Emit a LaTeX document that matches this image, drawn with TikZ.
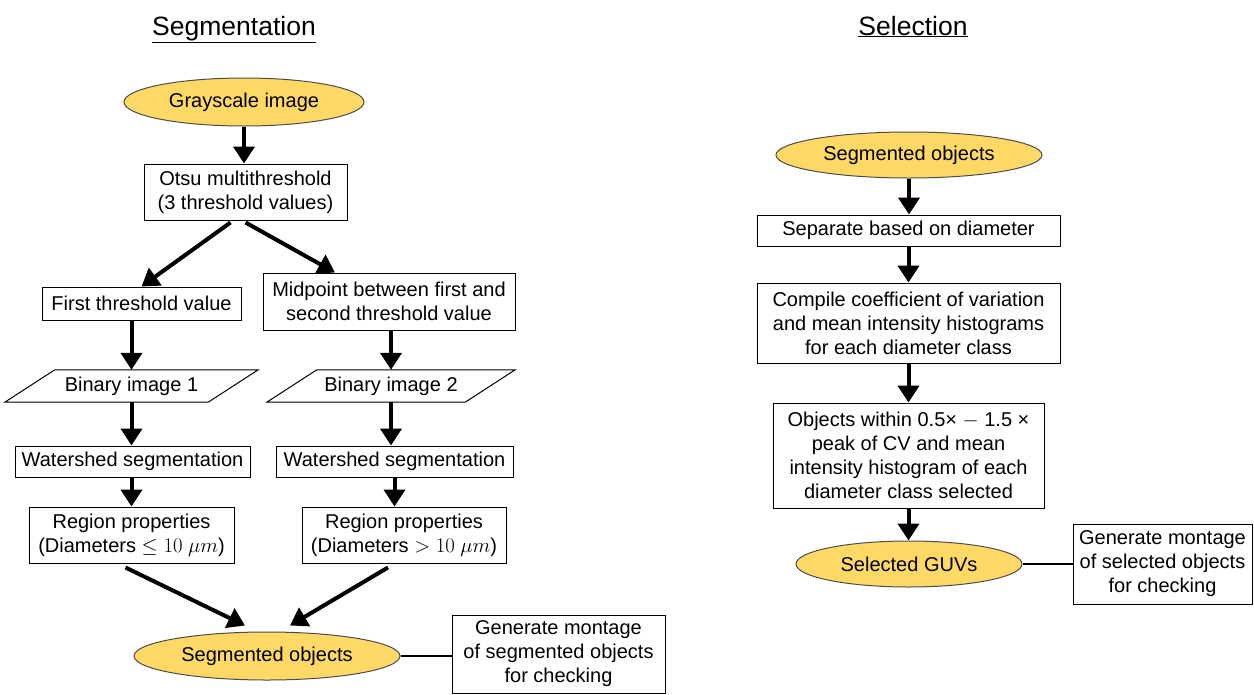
\documentclass[tikz,border=0pt]{standalone}
\usepackage{fontspec}
\setmainfont{Liberation Sans}
\usetikzlibrary{shapes.geometric,arrows.meta,calc,positioning}
\definecolor{termgold}{RGB}{255,217,102}
\tikzset{
  box/.style={draw, line width=1pt, fill=white, align=center, inner sep=0pt,
    font=\fontsize{20}{24}\selectfont},
  term/.style={ellipse, draw=black!70, line width=1pt, fill=termgold, inner sep=0pt,
    font=\fontsize{20}{24}\selectfont},
  slanted/.style={inner sep=0pt, font=\fontsize{20}{24}\selectfont},
  flow/.style={-{Triangle[length=17pt,width=21pt]}, line width=4pt},
  link/.style={line width=2pt},
  heading/.style={anchor=base, font=\fontsize{26.5}{30}\selectfont}
}
\begin{document}
\begin{tikzpicture}[x=1pt, y=-1pt]
  \useasboundingbox (0,0) rectangle (1254,694);
  % titles
  \node[heading] (segtitle) at (234,35) {\underline{Segmentation}};
  \node[heading] (seltitle) at (913,35) {\underline{Selection}};

  % segmentation
  \node[term, minimum width=240, minimum height=48] (gray) at (244,102) {Grayscale image};
  \node[box, minimum width=203, minimum height=56] (otsu) at (245.5,192) {Otsu multithreshold\\(3 threshold values)};
  \node[box, minimum width=199, minimum height=33] (first) at (141.5,303.5) {First threshold value};
  \node[box, minimum width=252, minimum height=57] (mid) at (389,301.5) {Midpoint between first and\\second threshold value};
  \node[slanted, minimum width=153, minimum height=32] (bin1) at (131.5,386) {Binary image 1};
  \node[slanted, minimum width=148, minimum height=32] (bin2) at (391,386) {Binary image 2};
  \draw[line width=1pt] (bin1.north west) -- ($(bin1.north east)+(50,0)$) -- (bin1.south east) -- ($(bin1.south west)+(-50,0)$) -- cycle;
  \draw[line width=1pt] (bin2.north west) -- ($(bin2.north east)+(50,0)$) -- (bin2.south east) -- ($(bin2.south west)+(-50,0)$) -- cycle;
  \node[box, minimum width=235, minimum height=31] (ws1) at (132.5,461.5) {Watershed segmentation};
  \node[box, minimum width=237, minimum height=31] (ws2) at (394.5,461.5) {Watershed segmentation};
  \node[box, minimum width=205, minimum height=56] (reg1) at (131.5,535) {Region properties\\(Diameters $\leq 10\ \mu m$)};
  \node[box, minimum width=204, minimum height=56] (reg2) at (404,535) {Region properties\\(Diameters $> 10\ \mu m$)};
  \node[term, minimum width=266, minimum height=48] (segobj) at (267,656) {Segmented objects};
  \node[box, minimum width=213, minimum height=78] (mont1) at (558.5,654) {Generate montage\\of segmented objects\\for checking};

  \draw[flow] (gray.south) -- (gray.south |- otsu.north);
  \draw[flow] ([shift={(-15pt,-2pt)}]otsu.south) -- (first.north);
  \draw[flow] ([yshift=-2pt]otsu.south) -- ([xshift=-54pt]mid.north);
  \draw[flow] (first.south -| bin1) -- (bin1.north);
  \draw[flow] (bin2.north |- mid.south) -- (bin2.north);
  \draw[flow] (bin1.south) -- (bin1.south |- ws1.north);
  \draw[flow] (bin2.south) -- (bin2.south |- ws2.north);
  \draw[flow] (ws1.south -| reg1) -- (reg1.north);
  \draw[flow] (ws2.south) -- (ws2.south |- reg2.north);
  \draw[flow] ([shift={(-6pt,-4pt)}]reg1.south) -- ([shift={(-22pt,6pt)}]segobj.north);
  \draw[flow] ([shift={(-16pt,-4pt)}]reg2.south) -- ([shift={(23pt,6pt)}]segobj.north);
  \draw[link] (segobj.east) -- (segobj.east -| mont1.west);

  % selection
  \node[term, minimum width=266, minimum height=46] (segin) at (909,155) {Segmented objects};
  \node[box, minimum width=303, minimum height=31] (sep) at (908.5,230.5) {Separate based on diameter};
  \node[box, minimum width=303, minimum height=80] (comp) at (908.5,323) {Compile coefficient of variation\\and mean intensity histograms\\for each diameter class};
  \node[box, minimum width=271, minimum height=105] (objs) at (908.5,455.5) {Objects within 0.5× $-$ 1.5 ×\\peak of CV and mean\\intensity histogram of each\\diameter class selected};
  \node[term, minimum width=226, minimum height=46] (guv) at (909,564) {Selected GUVs};
  \node[box, minimum width=179, minimum height=80] (mont2) at (1162.5,564) {Generate montage\\of selected objects\\for checking};

  \draw[flow] (segin.south) -- (segin.south |- sep.north);
  \draw[flow] (sep.south) -- (comp.north);
  \draw[flow] (comp.south) -- (objs.north);
  \draw[flow] (objs.south) -- (objs.south |- guv.north);
  \draw[link] (guv.east) -- (mont2.west);
\end{tikzpicture}
\end{document}
